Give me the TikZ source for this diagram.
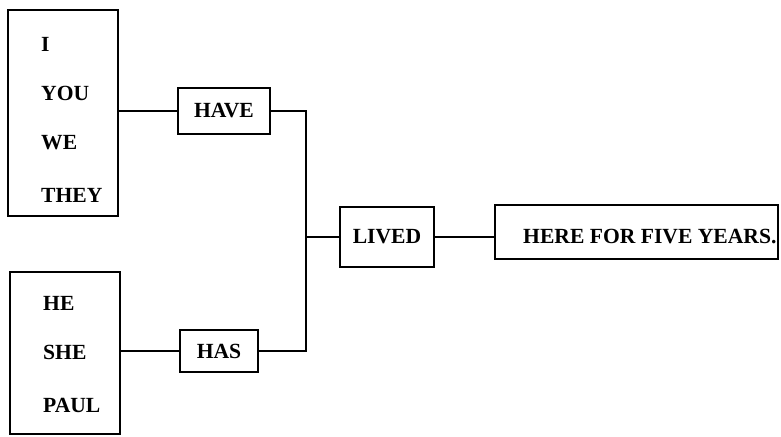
\documentclass[tikz,border=0pt]{standalone}
\usepackage{fontspec}
\setmainfont{Liberation Serif}
\begin{document}
\begin{tikzpicture}[x=0.5pt,y=-0.5pt,line width=1.2pt,
	box/.style={draw,inner sep=0pt,font=\bfseries\fontsize{10.8}{12}\selectfont},
	word/.style={anchor=west,inner sep=0pt,font=\bfseries\fontsize{10.8}{12}\selectfont}]
	\useasboundingbox (0,0) rectangle (781,436);
	% subject boxes
	\node[box,minimum width=55pt,minimum height=103pt] (plural) at (63,113) {};
	\node[word] (i) at (40,44) {I};
	\node[word] (you) at (40,93) {YOU};
	\node[word] (we) at (40,143) {WE};
	\node[word] (they) at (40,195) {THEY};
	\node[box,minimum width=55pt,minimum height=81pt] (single) at (65,353) {};
	\node[word] (he) at (42,303) {HE};
	\node[word] (she) at (42,352) {SHE};
	\node[word] (paul) at (42,405) {PAUL};
	% verbs
	\node[box,minimum width=46pt,minimum height=23pt] (have) at (224,111) {HAVE};
	\node[box,minimum width=39pt,minimum height=21pt] (has) at (219,351) {HAS};
	\node[box,minimum width=47pt,minimum height=30pt] (lived) at (387,237) {LIVED};
	\node[box,minimum width=141.5pt,minimum height=27pt] (rest) at (636.5,232) {};
	\node[word] (here) at (522,237) {HERE FOR FIVE YEARS.};
	\coordinate (join) at (306,237);
	\draw (plural.east |- have.west) -- (have.west);
	\draw (single.east |- has.west) -- (has.west);
	\draw (have.east) -| (join) |- (has.east);
	\draw (join) -- (lived.west);
	\draw (lived.east) -- (rest.west |- lived.east);
\end{tikzpicture}
\end{document}
